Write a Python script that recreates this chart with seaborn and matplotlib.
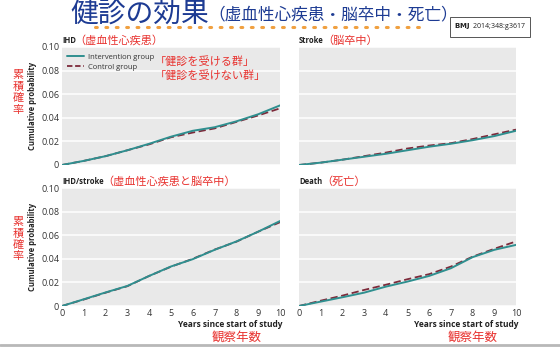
import numpy as np
import pandas as pd
import matplotlib
matplotlib.use("Agg")
import matplotlib.pyplot as plt
import seaborn as sns
from matplotlib.lines import Line2D

# ---------------- data ----------------
years = [0, 1, 2, 3, 4, 5, 6, 7, 8, 9, 10]
ihd_intervention = [0, 0.0035, 0.0075, 0.0125, 0.018, 0.024, 0.029, 0.032, 0.037, 0.043, 0.0505]
ihd_control      = [0, 0.0035, 0.0075, 0.0125, 0.0175, 0.0235, 0.0275, 0.031, 0.0365, 0.042, 0.048]
stroke_intervention = [0, 0.002, 0.0045, 0.007, 0.0095, 0.0125, 0.0155, 0.018, 0.021, 0.0245, 0.029]
stroke_control      = [0, 0.002, 0.0045, 0.0075, 0.0105, 0.014, 0.0165, 0.0185, 0.022, 0.026, 0.030]
ihdstroke_intervention = [0, 0.0057, 0.0115, 0.017, 0.0255, 0.0335, 0.0397, 0.0476, 0.0547, 0.063, 0.0720]
ihdstroke_control      = [0, 0.0055, 0.0113, 0.0168, 0.0255, 0.0333, 0.0400, 0.0478, 0.0545, 0.063, 0.0710]
death_intervention = [0, 0.0037, 0.0074, 0.0113, 0.0164, 0.0207, 0.0255, 0.0320, 0.0414, 0.0476, 0.0518]
death_control      = [0, 0.0045, 0.0088, 0.0136, 0.0180, 0.0227, 0.0270, 0.0334, 0.0418, 0.0485, 0.0547]

groups = ["Intervention group", "Control group"]
panel_en = ["IHD", "Stroke", "IHD/stroke", "Death"]
panel_ja = ["（虚血性心疾患）", "（脳卒中）", "（虚血性心疾患と脳卒中）", "（死亡）"]
ytick_vals = [0, 0.02, 0.04, 0.06, 0.08, 0.10]
ytick_labels = ["0", "0.02", "0.04", "0.06", "0.08", "0.10"]
xtick_vals = years

series = {
    "IHD": (ihd_intervention, ihd_control),
    "Stroke": (stroke_intervention, stroke_control),
    "IHD/stroke": (ihdstroke_intervention, ihdstroke_control),
    "Death": (death_intervention, death_control),
}

# ---------------- style ----------------
sns.set_theme(style="white")
plt.rcParams['font.family'] = ['Open Sans', 'Noto Sans CJK JP', 'DejaVu Sans']
JA = ['Noto Sans CJK JP', 'DejaVu Sans']

TEAL = "#2f8f8f"
CTRL = "#7d2a3a"
RED = "#e8322f"
BLUE = "#1d3b93"
FACE = "#e9e9e9"

W, H = 560, 348
fig = plt.figure(figsize=(W / 100, H / 100), dpi=100)
fig.patch.set_facecolor("white")

def px_axes(x0, x1, ytop, ybot):
    return fig.add_axes([x0 / W, (H - ybot) / H, (x1 - x0) / W, (ybot - ytop) / H])

boxes = [(62, 280, 47, 165), (299, 516, 47, 165), (62, 280, 188, 306), (299, 516, 188, 306)]

for i, (name, box) in enumerate(zip(panel_en, boxes)):
    ax = px_axes(*box)
    iv, ct = series[name]
    df = pd.DataFrame({
        "year": years + years,
        "prob": iv + ct,
        "group": [groups[0]] * len(years) + [groups[1]] * len(years),
    })
    sns.lineplot(data=df[df.group == groups[1]], x="year", y="prob", ax=ax,
                 color=CTRL, lw=1.3, linestyle=(0, (4, 2)), legend=False, zorder=3)
    sns.lineplot(data=df[df.group == groups[0]], x="year", y="prob", ax=ax,
                 color=TEAL, lw=1.4, legend=False, zorder=4)
    ax.set_facecolor(FACE)
    ax.set_xlim(0, 10)
    ax.set_ylim(0, 0.10)
    ax.set_yticks(ytick_vals)
    ax.set_xticks(xtick_vals)
    ax.grid(axis="y", color="white", lw=1.1)
    ax.grid(axis="x", visible=False)
    ax.set_axisbelow(True)
    for s in ax.spines.values():
        s.set_visible(False)
    ax.tick_params(length=0, pad=2, labelsize=6.5, labelcolor="#333333")
    ax.set_xlabel("")
    ax.set_ylabel("")
    if i % 2 == 0:
        ax.set_yticklabels(ytick_labels)
        ax.set_ylabel("Cumulative probability", fontsize=5.5, fontweight="bold",
                      color="#222222", labelpad=3)
    else:
        ax.set_yticklabels([])
    if i < 2:
        ax.set_xticklabels([])
    else:
        ax.set_xticklabels([str(v) for v in xtick_vals])
        ax.text(1.01, -0.16, "Years since start of study", transform=ax.transAxes,
                ha="right", va="center", fontsize=6, fontweight="bold", color="#222222")
        ax.text(0.80, -0.265, "観察年数", transform=ax.transAxes, ha="center", va="center",
                fontsize=9, color=RED, family=JA)
    t = ax.text(0.0, 1.055, name, transform=ax.transAxes, ha="left", va="center",
                fontsize=5.5, fontweight="bold", color="#222222")
    ax.annotate(panel_ja[i], xy=(1.0, 0.5), xycoords=t, xytext=(-1, 0),
                textcoords="offset points", ha="left", va="center",
                fontsize=8, color=RED, family=JA)
    if i == 0:
        handles = [Line2D([], [], color=TEAL, lw=1.4),
                   Line2D([], [], color=CTRL, lw=1.3, linestyle=(0, (3, 1.5)))]
        leg = ax.legend(handles, groups, loc="upper left", bbox_to_anchor=(0.0, 0.99),
                        frameon=False, fontsize=5.5, handlelength=2.2, handletextpad=0.5,
                        labelspacing=0.3, borderaxespad=0.3)
        for txt in leg.get_texts():
            txt.set_color("#333333")
        ax.text(0.425, 0.875, "「健診を受ける群」", transform=ax.transAxes, ha="left",
                va="center", fontsize=8, color=RED, family=JA)
        ax.text(0.425, 0.76, "「健診を受けない群」", transform=ax.transAxes, ha="left",
                va="center", fontsize=8, color=RED, family=JA)

# left vertical red labels (one character per row)
for ystart in (75, 222):
    for k, ch in enumerate("累積確率"):
        fig.text(18 / W, 1 - (ystart + k * 11.5) / H, ch, ha="center", va="center",
                 fontsize=8, color=RED, family=JA)

# title
fig.text(70 / W, 1 - 15 / H, "健診の効果", ha="left", va="center", fontsize=20,
         color=BLUE, family=JA)
fig.text(208 / W, 1 - 15 / H, "（虚血性心疾患・脳卒中・死亡）", ha="left", va="center",
         fontsize=12, color=BLUE, family=JA)

# orange dotted rule
fig.add_artist(Line2D([95 / W, 425 / W], [1 - 27 / H, 1 - 27 / H], color="#f0a040",
                      lw=2.2, linestyle=(0, (0.6, 2.8)), dash_capstyle="round",
                      transform=fig.transFigure))

# citation box
fig.text(490 / W, 1 - 27 / H, r"$\mathit{\bf BMJ}$  2014;348:g3617", ha="center", va="center",
         fontsize=5, color="#222222",
         bbox=dict(boxstyle="square,pad=0.6", fc="white", ec="#555555", lw=0.7))

# bottom slide border
fig.add_artist(Line2D([0, 1], [1 - 345 / H, 1 - 345 / H], color="#b8b8b8", lw=2.0,
                      transform=fig.transFigure))

fig.savefig("out.png", dpi=100)
